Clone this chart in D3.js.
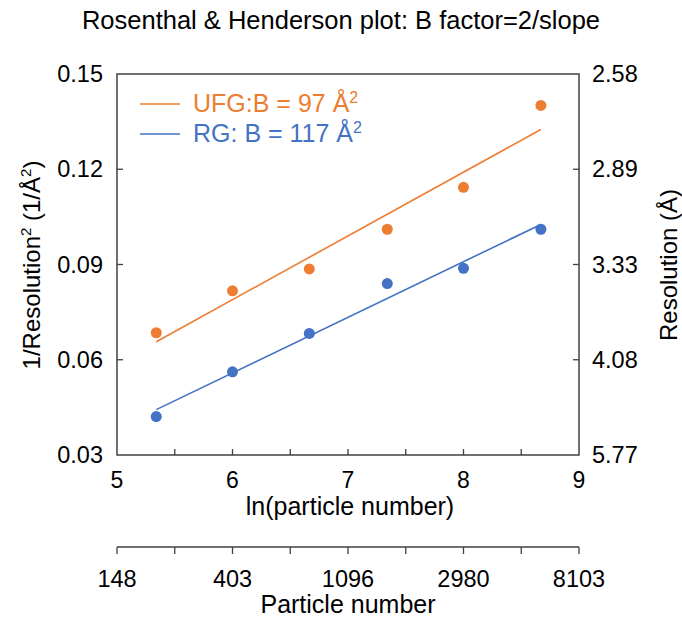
<!DOCTYPE html>
<html>
<head>
<meta charset="utf-8">
<script src="https://cdn.jsdelivr.net/npm/d3@7"></script>
<style>
  body { margin: 0; background: #fff; }
  text { font-family: Arial, 'Liberation Sans', sans-serif; fill: #000; }
</style>
</head>
<body>
<div id="chart"></div>
<script>

// ln(particle number) for each subset
const lnN = [5.34, 6.0, 6.665, 7.34, 8.0, 8.67]
// 1/Resolution^2 values
const ufgVals = [0.0685, 0.0817, 0.0886, 0.1011, 0.1143, 0.1401]
const rgVals = [0.0421, 0.0562, 0.0683, 0.084, 0.0888, 0.1011]

const leftTicks = [0.03, 0.06, 0.09, 0.12, 0.15]
const rightTickLabels = ['5.77', '4.08', '3.33', '2.89', '2.58']
const xTicks = [5, 6, 7, 8, 9]
const particleLabels = ['148', '403', '1096', '2980', '8103']

const series = [
    { name: 'UFG:B = 97 Å', vals: ufgVals, color: '#ED7D31' },
    { name: 'RG: B = 117 Å', vals: rgVals, color: '#4472C4' }
]

const width = 682
const height = 623

const svg = d3.select('#chart')
    .append('svg')
    .attr('width', width)
    .attr('height', height)

const x = d3.scaleLinear().domain([5, 9]).range([117, 579])
const y = d3.scaleLinear().domain([0.03, 0.15]).range([455, 74])

const axisColor = '#404040'

// frame
svg.append('rect')
    .attr('x', x(5)).attr('y', y(0.15))
    .attr('width', x(9) - x(5)).attr('height', y(0.03) - y(0.15))
    .attr('fill', 'none').attr('stroke', axisColor).attr('stroke-width', 1.5)

// x ticks (inward), with half-step minor ticks
const xMinor = d3.range(5.5, 9, 0.5)
svg.append('g').selectAll('line')
    .data(xMinor)
    .join('line')
    .attr('x1', d => x(d)).attr('x2', d => x(d))
    .attr('y1', y(0.03)).attr('y2', y(0.03) - 6)
    .attr('stroke', axisColor).attr('stroke-width', 1.3)

svg.append('g').selectAll('text')
    .data(xTicks)
    .join('text')
    .attr('x', d => x(d)).attr('y', 488)
    .attr('text-anchor', 'middle')
    .style('font-size', '23px')
    .text(d => d)

// left ticks
const innerY = leftTicks.slice(1, -1)
svg.append('g').selectAll('line')
    .data(innerY)
    .join('line')
    .attr('x1', x(5)).attr('x2', x(5) + 6)
    .attr('y1', d => y(d)).attr('y2', d => y(d))
    .attr('stroke', axisColor).attr('stroke-width', 1.3)

svg.append('g').selectAll('line')
    .data(innerY)
    .join('line')
    .attr('x1', x(9)).attr('x2', x(9) - 6)
    .attr('y1', d => y(d)).attr('y2', d => y(d))
    .attr('stroke', axisColor).attr('stroke-width', 1.3)

svg.append('g').selectAll('text')
    .data(leftTicks)
    .join('text')
    .attr('x', 103).attr('y', d => y(d) + 8)
    .attr('text-anchor', 'end')
    .style('font-size', '23.5px')
    .text(d => d.toFixed(2))

svg.append('g').selectAll('text')
    .data(leftTicks)
    .join('text')
    .attr('x', 592).attr('y', d => y(d) + 8)
    .attr('text-anchor', 'start')
    .style('font-size', '23.5px')
    .text((d, i) => rightTickLabels[i])

// fit lines (least squares) + points
const fit = (xs, ys) => {
    const mx = d3.mean(xs), my = d3.mean(ys)
    const sxy = d3.sum(xs, (v, i) => (v - mx) * (ys[i] - my))
    const sxx = d3.sum(xs, v => (v - mx) * (v - mx))
    const b = sxy / sxx
    return v => my + b * (v - mx)
}

series.forEach(s => {
    const f = fit(lnN, s.vals)
    const ext = d3.extent(lnN)
    svg.append('line')
        .attr('x1', x(ext[0])).attr('y1', y(f(ext[0])))
        .attr('x2', x(ext[1])).attr('y2', y(f(ext[1])))
        .attr('stroke', s.color).attr('stroke-width', 1.6)

    svg.append('g').selectAll('circle')
        .data(s.vals)
        .join('circle')
        .attr('cx', (d, i) => x(lnN[i]))
        .attr('cy', d => y(d))
        .attr('r', 5.5)
        .attr('fill', s.color)
})

// legend
series.forEach((s, i) => {
    const ly = 104 + i * 30
    svg.append('line')
        .attr('x1', 140).attr('x2', 180)
        .attr('y1', ly).attr('y2', ly)
        .attr('stroke', s.color).attr('stroke-width', 1.6)
    const t = svg.append('text')
        .attr('x', 193).attr('y', ly + 8)
        .style('font-size', '25px')
        .style('fill', s.color)
    t.append('tspan').text(s.name)
    t.append('tspan').attr('dy', -9).style('font-size', '16px').text('2')
})

// titles
svg.append('text')
    .attr('x', 341).attr('y', 29)
    .attr('text-anchor', 'middle')
    .style('font-size', '25.5px')
    .text('Rosenthal & Henderson plot: B factor=2/slope')

svg.append('text')
    .attr('x', 350).attr('y', 515)
    .attr('text-anchor', 'middle')
    .style('font-size', '25px')
    .text('ln(particle number)')

const lt = svg.append('text')
    .attr('transform', 'translate(40,265) rotate(-90)')
    .attr('text-anchor', 'middle')
    .style('font-size', '24px')
lt.append('tspan').text('1/Resolution')
lt.append('tspan').attr('dy', -9).style('font-size', '15px').text('2')
lt.append('tspan').attr('dy', 9).text(' (1/Å')
lt.append('tspan').attr('dy', -9).style('font-size', '15px').text('2')
lt.append('tspan').attr('dy', 9).text(')')

svg.append('text')
    .attr('transform', 'translate(677,265) rotate(-90)')
    .attr('text-anchor', 'middle')
    .style('font-size', '24px')
    .text('Resolution (Å)')

// particle number axis
const bottomY = 547
svg.append('line')
    .attr('x1', x(5)).attr('x2', x(9))
    .attr('y1', bottomY).attr('y2', bottomY)
    .attr('stroke', axisColor).attr('stroke-width', 1.5)

svg.append('g').selectAll('line')
    .data(d3.range(5, 9.01, 0.5))
    .join('line')
    .attr('x1', d => x(d)).attr('x2', d => x(d))
    .attr('y1', bottomY).attr('y2', bottomY + 7)
    .attr('stroke', axisColor).attr('stroke-width', 1.3)

svg.append('g').selectAll('text')
    .data(xTicks)
    .join('text')
    .attr('x', d => x(d)).attr('y', 587)
    .attr('text-anchor', 'middle')
    .style('font-size', '23.5px')
    .text((d, i) => particleLabels[i])

svg.append('text')
    .attr('x', 348).attr('y', 613)
    .attr('text-anchor', 'middle')
    .style('font-size', '25px')
    .text('Particle number')

</script>
</body>
</html>
